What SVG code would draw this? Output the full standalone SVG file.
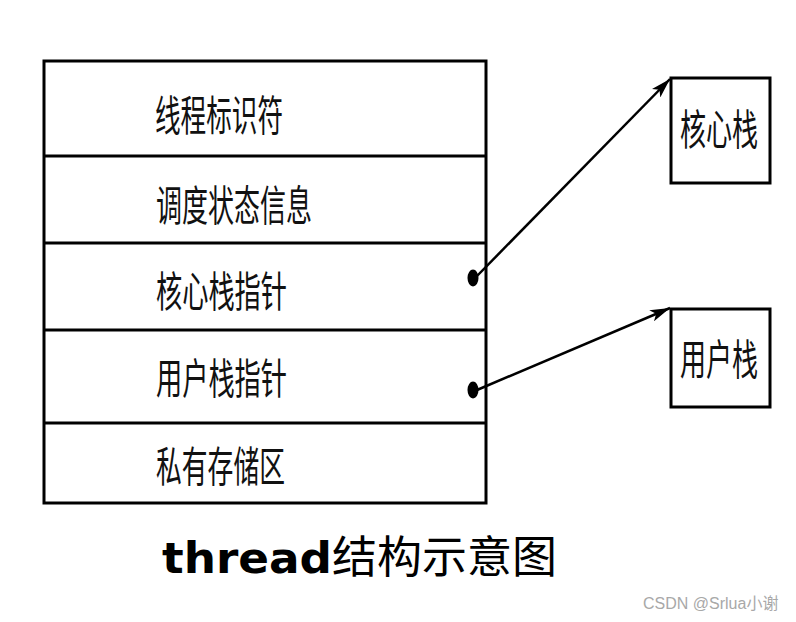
<svg xmlns="http://www.w3.org/2000/svg" width="796" height="622" viewBox="0 0 796 622">
<defs>
<style>
.box{fill:#fff;stroke:#000;stroke-width:3}
.div{stroke:#000;stroke-width:3}
.lbl{font-family:"Noto Sans CJK SC","Noto Sans CJK JP",sans-serif;font-size:42px;fill:#111}
.conn{stroke:#000;stroke-width:2.5;fill:none}
.title{font-family:"DejaVu Sans","Noto Sans CJK SC",sans-serif;font-size:42px;fill:#000}
.wm{font-family:"Liberation Sans","Noto Sans CJK SC",sans-serif;font-size:16px;fill:#a8a8a8}
</style>
<marker id="arr" viewBox="0 0 20 12" refX="20" refY="6" markerWidth="20" markerHeight="12" markerUnits="userSpaceOnUse" orient="auto">
<path d="M0,0 L20,6 L0,12 L5,6 z" fill="#000"/>
</marker>
</defs>
<rect width="796" height="622" fill="#fff"/>
<g id="thread">
<rect class="box" x="44" y="61" width="442" height="442"/>
<line class="div" x1="44" y1="156" x2="486" y2="156"/>
<line class="div" x1="44" y1="243" x2="486" y2="243"/>
<line class="div" x1="44" y1="330" x2="486" y2="330"/>
<line class="div" x1="44" y1="423" x2="486" y2="423"/>
</g>
<g id="tid"><text class="lbl" x="155" y="131" textLength="128" lengthAdjust="spacingAndGlyphs">线程标识符</text></g>
<g id="sched"><text class="lbl" x="156" y="221" textLength="156" lengthAdjust="spacingAndGlyphs">调度状态信息</text></g>
<g id="kptr"><text class="lbl" x="156" y="307" textLength="131" lengthAdjust="spacingAndGlyphs">核心栈指针</text><ellipse cx="473" cy="278" rx="5.5" ry="8.5" fill="#000"/></g>
<g id="uptr"><text class="lbl" x="156" y="394" textLength="131" lengthAdjust="spacingAndGlyphs">用户栈指针</text><ellipse cx="473" cy="390" rx="5.5" ry="8.5" fill="#000"/></g>
<g id="priv"><text class="lbl" x="156" y="482" textLength="129" lengthAdjust="spacingAndGlyphs">私有存储区</text></g>
<g id="kstack">
<rect class="box" x="671" y="78" width="99" height="105"/>
<text class="lbl" transform="translate(680,145) scale(0.62,1)" x="0" y="0">核心栈</text>
</g>
<g id="ustack">
<rect class="box" x="671" y="309" width="99" height="98"/>
<text class="lbl" transform="translate(680,375) scale(0.62,1)" x="0" y="0">用户栈</text>
</g>
<g id="connectors">
<line class="conn" x1="477" y1="276" x2="670" y2="79" marker-end="url(#arr)"/>
<line class="conn" x1="477" y1="390" x2="670" y2="308" marker-end="url(#arr)"/>
</g>
<g id="caption">
<text class="title" x="162" y="573"><tspan font-weight="bold" textLength="170" lengthAdjust="spacingAndGlyphs">thread</tspan><tspan font-family="Noto Sans CJK SC, sans-serif" font-size="44" x="332" textLength="225" lengthAdjust="spacingAndGlyphs">结构示意图</tspan></text>
</g>
<text class="wm" x="643" y="609">CSDN @Srlua小谢</text>
</svg>
